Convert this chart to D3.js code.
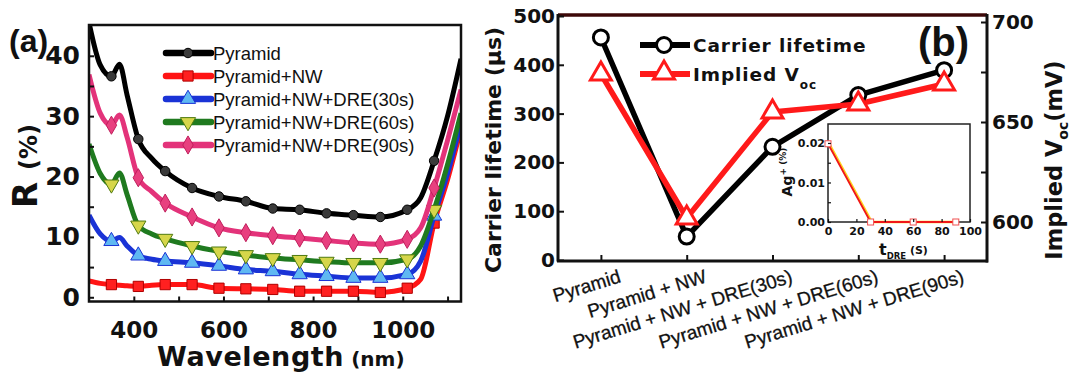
<!DOCTYPE html>
<html>
<head>
<meta charset="utf-8">
<script src="https://cdn.jsdelivr.net/npm/d3@7"></script>
<style>
  body { margin: 0; background: #fff; }
  svg { display: block; }
  .bold-num text { font-family: "DejaVu Sans", sans-serif; font-weight: bold; fill: #111; }
  .axis path.domain { display: none; }
  .axis line { stroke: #111; stroke-width: 2; }
</style>
</head>
<body>
<div id="chart"></div>
<script>
// ---------------- data: panel (a), reflectance spectra ----------------
const wavelengths = [300, 325, 350, 368, 385, 410, 440, 470, 530, 590, 650, 710, 770, 830, 890, 950, 1010, 1040, 1070, 1100, 1130];
const markerWavelengths = [350, 410, 470, 530, 590, 650, 710, 770, 830, 890, 950, 1010, 1070];
const rPyramid = [45.5, 38.5, 36.6, 38.6, 33.5, 26.2, 23.0, 20.9, 18.1, 16.7, 15.9, 14.7, 14.5, 13.9, 13.6, 13.3, 14.5, 16.5, 22.6, 30.0, 39.5];
const rNW      = [2.7, 2.3, 2.1, 2.0, 1.9, 1.8, 2.0, 2.1, 2.1, 1.5, 1.4, 1.3, 1.0, 1.0, 1.0, 0.8, 1.5, 3.0, 12.3, 19.5, 28.0];
const rDRE30   = [13.6, 10.5, 9.3, 9.9, 8.5, 6.9, 6.3, 6.0, 5.7, 5.2, 4.6, 4.3, 3.8, 3.5, 3.2, 3.2, 3.8, 6.0, 13.5, 20.5, 29.0];
const rDRE60   = [25.4, 20.5, 18.7, 20.6, 17.0, 11.9, 10.5, 9.7, 8.5, 7.6, 7.0, 6.5, 6.2, 5.9, 5.7, 5.7, 6.3, 8.5, 14.5, 22.0, 30.5];
const rDRE90   = [36.9, 30.5, 28.5, 30.2, 26.5, 19.8, 17.5, 15.6, 13.3, 11.5, 10.7, 10.2, 9.8, 9.4, 9.0, 8.8, 9.6, 11.5, 18.1, 26.0, 34.4];
const seriesNames = ["Pyramid", "Pyramid+NW", "Pyramid+NW+DRE(30s)", "Pyramid+NW+DRE(60s)", "Pyramid+NW+DRE(90s)"];
const rTicks = [0, 5, 10, 15, 20, 25, 30, 35, 40];
const wlTicks = [400, 500, 600, 700, 800, 900, 1000, 1100];

// ---------------- data: panel (b), lifetime / Voc ----------------
const samples = ["Pyramid", "Pyramid + NW", "Pyramid + NW + DRE(30s)", "Pyramid + NW + DRE(60s)", "Pyramid + NW + DRE(90s)"];
const lifetime = [456, 48, 232, 338, 389];
const impliedVoc = [674, 602, 655, 659, 669];
const lifetimeTicks = [0, 100, 200, 300, 400, 500];
const vocTicks = [600, 625, 650, 675, 700];

// inset: Ag+ concentration vs DRE time
const dreTime = [0, 30, 60, 90];
const agConc = [0.0198, 0, 0, 0];
const dreTicks = [0, 20, 40, 60, 80, 100];
const agTicks = [0, 0.005, 0.01, 0.015, 0.02];

const W = 1074, H = 380;
const svg = d3.select("#chart").append("svg")
    .attr("width", W)
    .attr("height", H);

/*
 * Panel (a)
 */
const xA = d3.scaleLinear().domain([300, 1130]).range([89, 461]);
const yA = d3.scaleLinear().domain([-0.7, 45.1]).range([301.5, 25]);

// styles for each spectrum (same order as seriesNames)
const styleA = [
    {color: "#000000", fill: "#3a3a3a", stroke: "#000", symbol: d3.symbolCircle, size: 70, rot: 0},
    {color: "#ff1414", fill: "#ff2020", stroke: "#b00000", symbol: d3.symbolSquare, size: 105, rot: 0},
    {color: "#1a33d6", fill: "#5fb8f2", stroke: "#1a33d6", symbol: d3.symbolTriangle, size: 100, rot: 0},
    {color: "#1f7a1f", fill: "#d6d64a", stroke: "#4f7a10", symbol: d3.symbolTriangle, size: 100, rot: 180},
    {color: "#e3337a", fill: "#e8407f", stroke: "#c01f5c", symbol: d3.symbolDiamond, size: 95, rot: 0}
];
const valuesA = [rPyramid, rNW, rDRE30, rDRE60, rDRE90];

const gA = svg.append("g").attr("class", "panel-a");

gA.append("clipPath").attr("id", "clipA")
    .append("rect")
    .attr("x", xA.range()[0]).attr("y", yA.range()[1])
    .attr("width", xA.range()[1] - xA.range()[0])
    .attr("height", yA.range()[0] - yA.range()[1]);

const lineA = d3.line()
    .x(d => xA(d[0]))
    .y(d => yA(d[1]))
    .curve(d3.curveMonotoneX);

const plotA = gA.append("g").attr("clip-path", "url(#clipA)");

valuesA.forEach((vals, i) => {
    let st = styleA[i];
    let pts = wavelengths.map((w, k) => [w, vals[k]]);
    plotA.append("path")
        .attr("d", lineA(pts))
        .attr("fill", "none")
        .attr("stroke", st.color)
        .attr("stroke-width", 5)
        .attr("stroke-linejoin", "round");

    plotA.selectAll(".mk" + i)
        .data(pts.filter(p => markerWavelengths.includes(p[0])))
        .enter()
        .append("path")
        .attr("class", "mk" + i)
        .attr("d", d3.symbol().type(st.symbol).size(st.size))
        .attr("transform", d => `translate(${xA(d[0])},${yA(d[1])}) rotate(${st.rot})`)
        .attr("fill", st.fill)
        .attr("stroke", st.stroke)
        .attr("stroke-width", 1);
});

// frame
gA.append("rect")
    .attr("x", xA.range()[0]).attr("y", yA.range()[1])
    .attr("width", xA.range()[1] - xA.range()[0])
    .attr("height", yA.range()[0] - yA.range()[1])
    .attr("fill", "none")
    .attr("stroke", "#111")
    .attr("stroke-width", 2.5);

// axes
gA.append("g")
    .attr("class", "axis bold-num")
    .attr("transform", `translate(0,${yA.range()[0]})`)
    .call(d3.axisBottom(xA).tickValues(wlTicks).tickSize(-5).tickPadding(20)
        .tickFormat(d => d % 200 === 0 ? d : ""))
    .selectAll("text").style("font-size", "23px");

gA.append("g")
    .attr("class", "axis bold-num")
    .attr("transform", `translate(${xA.range()[0]},0)`)
    .call(d3.axisLeft(yA).tickValues(rTicks).tickSize(-5).tickPadding(9)
        .tickFormat(d => d % 10 === 0 ? d : ""))
    .selectAll("text").style("font-size", "25px");

// axis titles
const xTitleA = gA.append("text")
    .attr("x", 157).attr("y", 366)
    .style("font-family", "DejaVu Sans").style("font-weight", "bold")
    .style("fill", "#111");
xTitleA.append("tspan").text("Wavelength").style("font-size", "27px").style("letter-spacing", "0.6px");
xTitleA.append("tspan").text(" (nm)").style("font-size", "20px");

const yTitleA = gA.append("text")
    .attr("transform", "translate(37,166) rotate(-90)")
    .attr("text-anchor", "middle")
    .style("font-family", "DejaVu Sans").style("font-weight", "bold")
    .style("fill", "#111");
yTitleA.append("tspan").text("R ").style("font-size", "34px");
yTitleA.append("tspan").text("(%)").style("font-size", "24px");

gA.append("text")
    .attr("x", 9).attr("y", 52)
    .text("(a)")
    .style("font-family", "Liberation Sans").style("font-weight", "bold")
    .style("font-size", "32px").style("fill", "#111");

// legend
const legA = gA.append("g").attr("class", "legend-a");
seriesNames.forEach((name, i) => {
    let st = styleA[i];
    let y = 53 + i * 23;
    legA.append("line")
        .attr("x1", 166).attr("x2", 211).attr("y1", y).attr("y2", y)
        .attr("stroke", st.color).attr("stroke-width", 6.5).attr("stroke-linecap", "round");
    legA.append("path")
        .attr("d", d3.symbol().type(st.symbol).size(st.size))
        .attr("transform", `translate(188,${y}) rotate(${st.rot})`)
        .attr("fill", st.fill).attr("stroke", st.stroke).attr("stroke-width", 1);
    legA.append("text")
        .attr("x", 213).attr("y", y + 6.5)
        .text(name)
        .style("font-family", "Liberation Sans")
        .style("font-size", "18.5px")
        .style("fill", "#111");
});

/*
 * Panel (b)
 */
const xB = d3.scalePoint().domain(samples).range([558, 987]).padding(0.5);
const yB = d3.scaleLinear().domain([0, 500]).range([260, 16]);
const yV = d3.scaleLinear().domain([581, 703.5]).range([260, 15]);

const gB = svg.append("g").attr("class", "panel-b");

// frame lines
gB.append("line")
    .attr("x1", 558).attr("x2", 987).attr("y1", 15).attr("y2", 15)
    .attr("stroke", "#3d0808").attr("stroke-width", 3.5);
gB.append("line")
    .attr("x1", 558).attr("x2", 558).attr("y1", 14).attr("y2", 261.5)
    .attr("stroke", "#111").attr("stroke-width", 3);
gB.append("line")
    .attr("x1", 987).attr("x2", 987).attr("y1", 14).attr("y2", 262.5)
    .attr("stroke", "#111").attr("stroke-width", 3);
gB.append("line")
    .attr("x1", 557).attr("x2", 988).attr("y1", 261).attr("y2", 261)
    .attr("stroke", "#111").attr("stroke-width", 3);

gB.append("g")
    .attr("class", "axis bold-num")
    .attr("transform", "translate(558,0)")
    .call(d3.axisLeft(yB).tickValues(lifetimeTicks).tickSize(-6).tickPadding(3))
    .selectAll("text").style("font-size", "20px");

gB.append("g")
    .attr("class", "axis bold-num")
    .attr("transform", "translate(987,0)")
    .call(d3.axisRight(yV).tickValues(vocTicks).tickSize(-6).tickPadding(5)
        .tickFormat(d => d % 50 === 0 ? d : ""))
    .selectAll("text").style("font-size", "20px");

gB.append("g")
    .attr("class", "axis")
    .attr("transform", "translate(0,261)")
    .call(d3.axisBottom(xB).tickSize(-6).tickFormat(""));

// rotated category labels
gB.selectAll(".cat-label")
    .data(samples)
    .enter()
    .append("text")
    .attr("class", "cat-label")
    .attr("text-anchor", "end")
    .attr("transform", d => `translate(${xB(d) + 21},282) rotate(-17)`)
    .text(d => d)
    .style("font-family", "Liberation Sans")
    .style("font-size", "19px")
    .style("stroke", "#111").style("stroke-width", 0.3)
    .style("fill", "#111");

// axis titles
gB.append("text")
    .attr("transform", "translate(501,150) rotate(-90)")
    .attr("text-anchor", "middle")
    .text("Carrier lifetime (\u03bcs)")
    .style("font-family", "DejaVu Sans").style("font-weight", "bold")
    .style("font-size", "22px").style("fill", "#111");

const vTitle = gB.append("text")
    .attr("transform", "translate(1062,160) rotate(-90)")
    .attr("text-anchor", "middle")
    .style("font-family", "DejaVu Sans").style("font-weight", "bold")
    .style("font-size", "22.5px").style("fill", "#111");
vTitle.append("tspan").text("Implied V");
vTitle.append("tspan").text("oc").style("font-size", "14px").attr("dy", 6);
vTitle.append("tspan").text("(mV)").attr("dy", -6);

gB.append("text")
    .attr("x", 918).attr("y", 56)
    .text("(b)")
    .style("font-family", "Liberation Sans").style("font-weight", "bold")
    .style("font-size", "40px").style("fill", "#111");

// inset
const xI = d3.scaleLinear().domain([0, 100]).range([828, 970]);
const yI = d3.scaleLinear().domain([0, 0.0248]).range([222, 124]);

const gI = gB.append("g").attr("class", "inset");
gI.append("rect")
    .attr("x", 828).attr("y", 124).attr("width", 142).attr("height", 98)
    .attr("fill", "#fff").attr("stroke", "#222").attr("stroke-width", 1.5);

const lineI = d3.line().x((d, i) => xI(dreTime[i])).y(d => yI(d));
gI.append("path")
    .attr("d", lineI(agConc))
    .attr("transform", "translate(1.2,0)")
    .attr("fill", "none").attr("stroke", "#ffd21e").attr("stroke-width", 2.5);
gI.append("path")
    .attr("d", lineI(agConc))
    .attr("fill", "none").attr("stroke", "#f01818").attr("stroke-width", 1.8);
gI.selectAll(".sq")
    .data(agConc)
    .enter()
    .append("rect")
    .attr("class", "sq")
    .attr("x", (d, i) => xI(dreTime[i]) - 3).attr("y", d => yI(d) - 3)
    .attr("width", 6).attr("height", 6)
    .attr("fill", "#fff").attr("stroke", "#f05050").attr("stroke-width", 1);

gI.append("g")
    .attr("class", "axis bold-num")
    .attr("transform", "translate(0,222)")
    .call(d3.axisBottom(xI).tickValues(dreTicks).tickSize(-3).tickPadding(5))
    .call(g => g.selectAll("line").style("stroke-width", 1.2))
    .selectAll("text").style("font-size", "11px");

gI.append("g")
    .attr("class", "axis bold-num")
    .attr("transform", "translate(828,0)")
    .call(d3.axisLeft(yI).tickValues(agTicks).tickSize(-3).tickPadding(3)
        .tickFormat(d => [0, 0.01, 0.02].includes(d) ? d3.format(".2f")(d) : ""))
    .call(g => g.selectAll("line").style("stroke-width", 1.2))
    .selectAll("text").style("font-size", "11px");

const agTitle = gI.append("text")
    .attr("transform", "translate(792,172) rotate(-90)")
    .attr("text-anchor", "middle")
    .style("font-family", "DejaVu Sans").style("font-weight", "bold")
    .style("fill", "#111");
agTitle.append("tspan").text("Ag").style("font-size", "14px");
agTitle.append("tspan").text("+").style("font-size", "9px").attr("dy", -6);
agTitle.append("tspan").text(" (%)").style("font-size", "9px").attr("dy", 0);

const tTitle = gI.append("text")
    .attr("x", 879).attr("y", 255)
    .style("font-family", "DejaVu Sans").style("font-weight", "bold")
    .style("fill", "#111");
tTitle.append("tspan").text("t").style("font-size", "16px");
tTitle.append("tspan").text("DRE").style("font-size", "8.5px").attr("dy", 4);
tTitle.append("tspan").text(" (S)").style("font-size", "11px").attr("dy", -5);

// main series
const lineLife = d3.line().x((d, i) => xB(samples[i])).y(d => yB(d));
const lineVoc = d3.line().x((d, i) => xB(samples[i])).y(d => yV(d));

gB.append("path")
    .attr("d", lineLife(lifetime))
    .attr("fill", "none").attr("stroke", "#000").attr("stroke-width", 5.5)
    .attr("stroke-linejoin", "round");
gB.append("path")
    .attr("d", lineVoc(impliedVoc))
    .attr("fill", "none").attr("stroke", "#ff1a1a").attr("stroke-width", 5.5)
    .attr("stroke-linejoin", "round");

gB.selectAll(".life-pt")
    .data(lifetime)
    .enter()
    .append("circle")
    .attr("class", "life-pt")
    .attr("cx", (d, i) => xB(samples[i]))
    .attr("cy", d => yB(d))
    .attr("r", 7.5)
    .attr("fill", "#fff").attr("stroke", "#000").attr("stroke-width", 3);

gB.selectAll(".voc-pt")
    .data(impliedVoc)
    .enter()
    .append("path")
    .attr("class", "voc-pt")
    .attr("d", d3.symbol().type(d3.symbolTriangle).size(190))
    .attr("transform", (d, i) => `translate(${xB(samples[i])},${yV(d)})`)
    .attr("fill", "#fff").attr("stroke", "#ff1a1a").attr("stroke-width", 3);

// legend (b)
const legB = gB.append("g").attr("class", "legend-b");
legB.append("line").attr("x1", 640).attr("x2", 690).attr("y1", 45).attr("y2", 45)
    .attr("stroke", "#000").attr("stroke-width", 6);
legB.append("circle").attr("cx", 664).attr("cy", 45).attr("r", 7.5)
    .attr("fill", "#fff").attr("stroke", "#000").attr("stroke-width", 3);
legB.append("line").attr("x1", 640).attr("x2", 690).attr("y1", 74).attr("y2", 74)
    .attr("stroke", "#ff1a1a").attr("stroke-width", 6);
legB.append("path")
    .attr("d", d3.symbol().type(d3.symbolTriangle).size(190))
    .attr("transform", "translate(664,73)")
    .attr("fill", "#fff").attr("stroke", "#ff1a1a").attr("stroke-width", 3);

legB.append("text")
    .attr("x", 693).attr("y", 52)
    .text("Carrier lifetime")
    .style("font-family", "DejaVu Sans").style("font-weight", "bold")
    .style("font-size", "18.5px").style("letter-spacing", "0.9px").style("fill", "#111");
const vocLeg = legB.append("text")
    .attr("x", 693).attr("y", 81)
    .style("font-family", "DejaVu Sans").style("font-weight", "bold")
    .style("font-size", "18.5px").style("letter-spacing", "0.9px").style("fill", "#111");
vocLeg.append("tspan").text("Implied V");
vocLeg.append("tspan").text("oc").style("font-size", "12px").attr("dy", 8);
</script>
</body>
</html>
